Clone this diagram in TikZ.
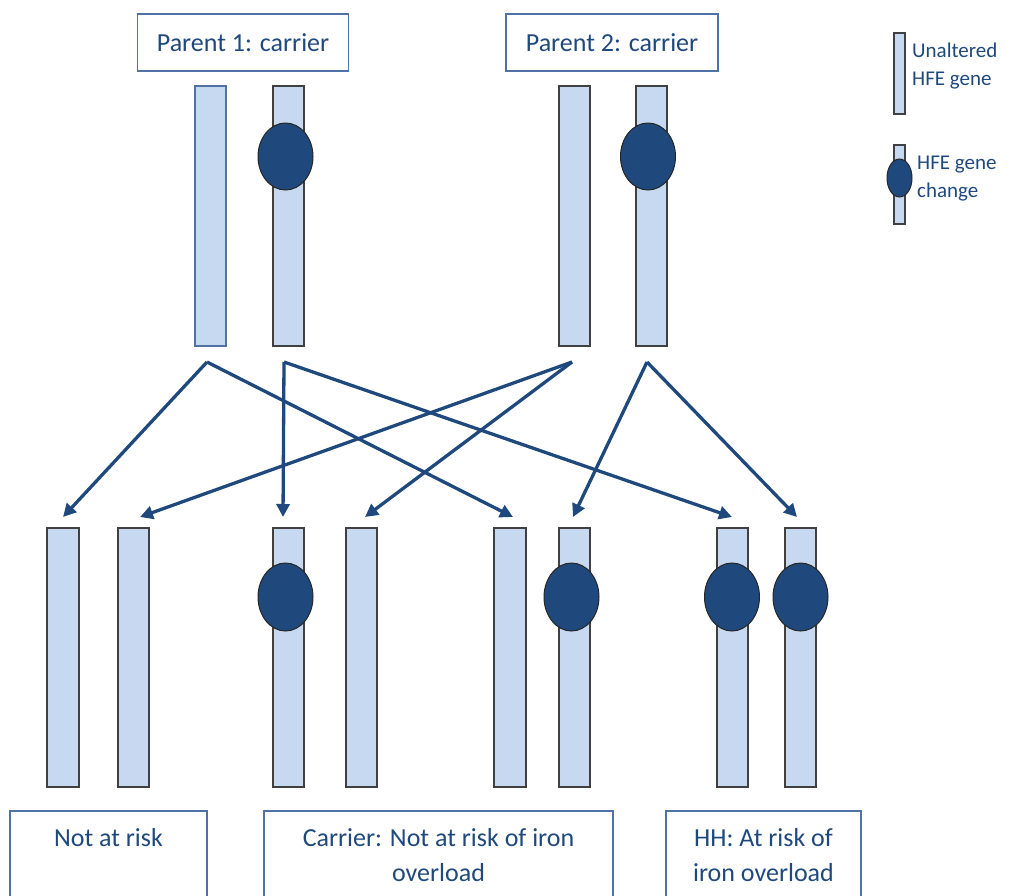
\documentclass[tikz,border=0pt]{standalone}
\usepackage{fontspec}
\setmainfont{Carlito}
\usetikzlibrary{arrows.meta}

\definecolor{genefill}{HTML}{C6D9F1}
\definecolor{geneblue}{HTML}{1F497D}
\definecolor{boxline}{HTML}{4F72A6}

\tikzset{
  gene/.style={draw=black!75,line width=1.3pt,fill=genefill},
  change/.style={draw=black!85,line width=1pt,fill=geneblue},
  labelbox/.style={draw=boxline,line width=1.2pt},
  pass/.style={draw=geneblue,line width=3.3pt,-{Triangle[length=13pt,width=13pt]}},
}

\begin{document}
\begin{tikzpicture}[x=1pt,y=-1pt,text=geneblue,font=\fontsize{26}{35}\selectfont]

\begin{scope}
\clip (0,0) rectangle (1010,895);

% parents
\node[labelbox,minimum width=211pt,minimum height=57pt] (p1) at (243,42.5) {Parent 1: carrier};
\node[labelbox,minimum width=212pt,minimum height=57pt] (p2) at (612,42.5) {Parent 2: carrier};

\draw[gene,draw=boxline] (195,86) rectangle (226,346);
\draw[gene] (273,86) rectangle (304,346);
\draw[change] (285.5,156.5) ellipse (27.5 and 33.5);
\draw[gene] (559,86) rectangle (590,346);
\draw[gene] (636,86) rectangle (667,346);
\draw[change] (648,156.5) ellipse (27.5 and 33.5);

\coordinate (p1a) at (207,362);
\coordinate (p1b) at (284,362);
\coordinate (p2a) at (572,362);
\coordinate (p2b) at (647,362);

% children
\draw[gene] (47,528) rectangle (79,787);
\draw[gene] (118,528) rectangle (149,787);
\draw[gene] (273,528) rectangle (304,787);
\draw[change] (285.5,597) ellipse (27.5 and 34);
\draw[gene] (346,528) rectangle (377,787);
\draw[gene] (494,528) rectangle (526,787);
\draw[gene] (559,528) rectangle (590,787);
\draw[change] (571.5,597) ellipse (27.5 and 34);
\draw[gene] (717,528) rectangle (748,787);
\draw[change] (732,597) ellipse (27.5 and 34);
\draw[gene] (785,528) rectangle (816,787);
\draw[change] (800.5,597) ellipse (27.5 and 34);

\coordinate (c1a) at (63,517);
\coordinate (c1b) at (140,517);
\coordinate (c2a) at (283,517);
\coordinate (c2b) at (365,517);
\coordinate (c3a) at (513,517);
\coordinate (c3b) at (573,517);
\coordinate (c4a) at (732,517);
\coordinate (c4b) at (797,517);

\draw[pass] (p1a) -- (c1a);
\draw[pass] (p1a) -- (c3a);
\draw[pass] (p1b) -- (c2a);
\draw[pass] (p1b) -- (c4a);
\draw[pass] (p2a) -- (c1b);
\draw[pass] (p2a) -- (c2b);
\draw[pass] (p2b) -- (c3b);
\draw[pass] (p2b) -- (c4b);

% outcomes
\draw[labelbox] (10,811) rectangle (207,920);
\draw[labelbox] (264,811) rectangle (613,920);
\draw[labelbox] (666,811) rectangle (861,920);
\node[anchor=base] (safe) at (108.5,846) {Not at risk};
\node[anchor=base,align=center] (carrier) at (438.5,881) {Carrier: Not at risk of iron\\overload};
\node[anchor=base,align=center] (hh) at (763.5,881) {HH: At risk of\\iron overload};

% legend
\draw[gene] (894,33) rectangle (905,114);
\draw[gene] (894,145) rectangle (905,224);
\draw[change] (899.5,178) ellipse (12.5 and 19);
\node[anchor=base west,align=left,font=\fontsize{21}{28}\selectfont,inner sep=0pt] (plain) at (912,85) {Unaltered\\HFE gene};
\node[anchor=base west,align=left,font=\fontsize{21}{28}\selectfont,inner sep=0pt] (altered) at (917,197) {HFE gene\\change};

\end{scope}

\end{tikzpicture}
\end{document}
